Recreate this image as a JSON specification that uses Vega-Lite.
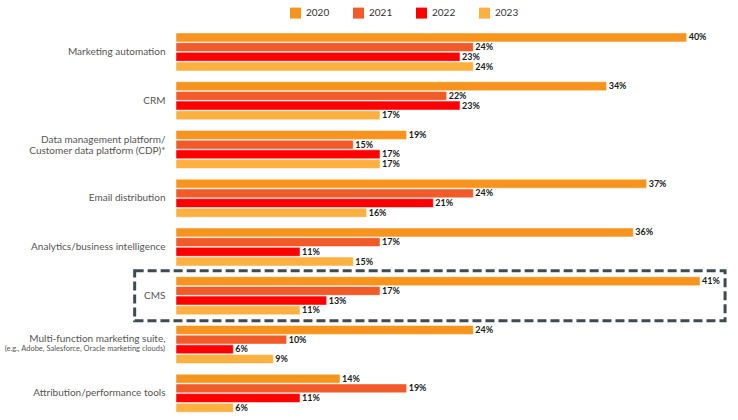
{
  "$schema": "https://vega.github.io/schema/vega-lite/v6.json",
  "autosize": "none",
  "width": 524,
  "height": 390,
  "padding": {"left": 176, "top": 27.6, "right": 38, "bottom": 2.4},
  "background": "white",
  "config": {
    "font": "Lato",
    "view": {"stroke": null},
    "axis": {"title": null, "domain": false, "ticks": false, "grid": false}
  },
  "data": {
    "values": [
      {"category": "Marketing automation", "year": "2020", "value": 40},
      {"category": "Marketing automation", "year": "2021", "value": 24},
      {"category": "Marketing automation", "year": "2022", "value": 23},
      {"category": "Marketing automation", "year": "2023", "value": 24},
      {"category": "CRM", "year": "2020", "value": 34},
      {"category": "CRM", "year": "2021", "value": 22},
      {"category": "CRM", "year": "2022", "value": 23},
      {"category": "CRM", "year": "2023", "value": 17},
      {"category": "Data management platform/|Customer data platform (CDP)*", "year": "2020", "value": 19},
      {"category": "Data management platform/|Customer data platform (CDP)*", "year": "2021", "value": 15},
      {"category": "Data management platform/|Customer data platform (CDP)*", "year": "2022", "value": 17},
      {"category": "Data management platform/|Customer data platform (CDP)*", "year": "2023", "value": 17},
      {"category": "Email distribution", "year": "2020", "value": 37},
      {"category": "Email distribution", "year": "2021", "value": 24},
      {"category": "Email distribution", "year": "2022", "value": 21},
      {"category": "Email distribution", "year": "2023", "value": 16},
      {"category": "Analytics/business intelligence", "year": "2020", "value": 36},
      {"category": "Analytics/business intelligence", "year": "2021", "value": 17},
      {"category": "Analytics/business intelligence", "year": "2022", "value": 11},
      {"category": "Analytics/business intelligence", "year": "2023", "value": 15},
      {"category": "CMS", "year": "2020", "value": 41},
      {"category": "CMS", "year": "2021", "value": 17},
      {"category": "CMS", "year": "2022", "value": 13},
      {"category": "CMS", "year": "2023", "value": 11},
      {"category": "Multi-function marketing suite,", "year": "2020", "value": 24},
      {"category": "Multi-function marketing suite,", "year": "2021", "value": 10},
      {"category": "Multi-function marketing suite,", "year": "2022", "value": 6},
      {"category": "Multi-function marketing suite,", "year": "2023", "value": 9},
      {"category": "Attribution/performance tools", "year": "2020", "value": 14},
      {"category": "Attribution/performance tools", "year": "2021", "value": 19},
      {"category": "Attribution/performance tools", "year": "2022", "value": 11},
      {"category": "Attribution/performance tools", "year": "2023", "value": 6}
    ]
  },
  "encoding": {
    "y": {
      "field": "category",
      "type": "nominal",
      "sort": null,
      "scale": {"paddingInner": 0.22, "paddingOuter": 0.11},
      "axis": {
        "labelFontSize": 10,
        "labelColor": "#555555",
        "labelPadding": 11,
        "labelLineHeight": 11,
        "labelLimit": 300,
        "labelExpr": "split(datum.value, '|')",
        "labelOffset": {
          "condition": [
            {"test": "indexof(datum.value, 'Data management') == 0", "value": -9.5},
            {"test": "indexof(datum.value, 'Multi-function') == 0", "value": -5}
          ],
          "value": 0
        }
      }
    }
  },
  "layer": [
    {
      "mark": {"type": "bar", "stroke": "white", "strokeWidth": 0.5},
      "encoding": {
        "x": {"field": "value", "type": "quantitative", "scale": {"domain": [1.7, 41], "zero": false, "nice": false}, "axis": null},
        "x2": {"datum": 1.7},
        "yOffset": {"field": "year", "type": "nominal", "scale": {"paddingInner": 0.08}},
        "color": {
          "field": "year",
          "type": "nominal",
          "scale": {"domain": ["2020", "2021", "2022", "2023"], "range": ["#F7941D", "#F15A29", "#FF0000", "#FBB040"]},
          "legend": {
            "title": null,
            "orient": "none",
            "direction": "horizontal",
            "legendX": 114,
            "legendY": -20,
            "padding": 0,
            "symbolType": "square",
            "symbolSize": 121,
            "symbolStrokeWidth": 0,
            "labelFontSize": 10,
            "labelColor": "#333333",
            "labelOffset": 5,
            "columnPadding": 23
          }
        }
      }
    },
    {
      "transform": [{"calculate": "datum.value + '%'", "as": "label"}],
      "mark": {"type": "text", "align": "left", "baseline": "middle", "dx": 2, "fontSize": 9, "fontWeight": "bold", "color": "#1a1a1a"},
      "encoding": {
        "x": {"field": "value", "type": "quantitative"},
        "yOffset": {"field": "year", "type": "nominal"},
        "text": {"field": "label"}
      }
    },
    {
      "transform": [{"filter": "datum.category == 'Multi-function marketing suite,' && datum.year == '2020'"}],
      "mark": {"type": "text", "align": "right", "baseline": "middle", "dx": -11, "dy": 5, "fontSize": 7.5, "color": "#555555"},
      "encoding": {
        "x": {"datum": 1.7},
        "text": {"value": "(e.g., Adobe, Salesforce, Oracle marketing clouds)"}
      }
    },
    {
      "transform": [{"filter": "datum.category == 'CMS' && datum.year == '2020'"}],
      "mark": {"type": "bar", "filled": false, "size": 50, "stroke": "#3F4A52", "strokeWidth": 3, "strokeDash": [9, 4], "clip": false},
      "encoding": {
        "x": {"datum": -1.4},
        "x2": {"datum": 42.88}
      }
    }
  ]
}
